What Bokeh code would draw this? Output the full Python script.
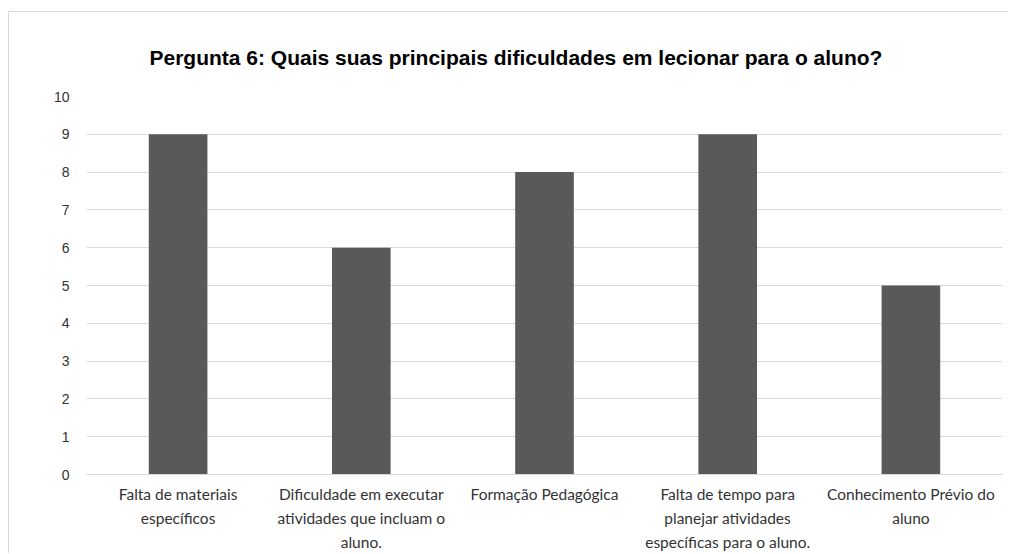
from bokeh.plotting import figure
from bokeh.models import FactorRange, Range1d, ColumnDataSource, CategoricalAxis, InlineStyleSheet
from bokeh.embed import file_html
from bokeh.resources import INLINE

categories = [
    "Falta de materiais específicos",
    "Dificuldade em executar atividades que incluam o aluno.",
    "Formação Pedagógica",
    "Falta de tempo para planejar atividades específicas para o aluno.",
    "Conhecimento Prévio do aluno",
]
label_lines = [
    ["Falta de materiais", "específicos", ""],
    ["Dificuldade em executar", "atividades que incluam o", "aluno."],
    ["Formação Pedagógica", "", ""],
    ["Falta de tempo para", "planejar atividades", "específicas para o aluno."],
    ["Conhecimento Prévio do", "aluno", ""],
]
values = [9, 6, 8, 9, 5]
y_ticks = list(range(0, 11))
title_text = "Pergunta 6: Quais suas principais dificuldades em lecionar para o aluno?"

src = ColumnDataSource(dict(cat=categories, val=values))

p = figure(
    x_range=FactorRange(*categories, range_padding=0),
    y_range=Range1d(0, 10),
    width=1008, height=553,
    output_backend="svg", toolbar_location=None,
    min_border_left=86, min_border_right=6, min_border_top=96, min_border_bottom=79,
    background_fill_color="white", border_fill_color="white",
    title=title_text, x_axis_location=None,
)
p.outline_line_color = None
p.stylesheets = [InlineStyleSheet(css=":host::after { content: ''; position: absolute; left: 8px; top: 11px; right: 0; bottom: 0; border-top: 1px solid #d9d9d9; border-left: 1px solid #d9d9d9; pointer-events: none; }")]

p.title.align = "left"
p.title.offset = 63
p.title.standoff = 56
p.title.text_font = "Liberation Sans"
p.title.text_font_style = "bold"
p.title.text_font_size = "21px"
p.title.text_color = "black"

p.vbar(x="cat", top="val", width=0.32, source=src, color="#595959", line_color=None)

p.xgrid.grid_line_color = None
p.ygrid.grid_line_color = "#d9d9d9"
p.ygrid.grid_line_width = 1
p.yaxis.ticker = y_ticks
p.yaxis.axis_line_color = None
p.yaxis.major_tick_line_color = None
p.yaxis.major_tick_out = 0
p.yaxis.minor_tick_line_color = None
p.yaxis.major_label_text_font = "Liberation Sans"
p.yaxis.major_label_text_font_size = "14px"
p.yaxis.major_label_text_color = "#333333"
p.yaxis.major_label_standoff = 17

for i in range(3):
    factors = []
    for j, lines in enumerate(label_lines):
        t = lines[i]
        factors.append(t if t else " " * (j + 1))
    name = f"line{i}"
    p.extra_x_ranges[name] = FactorRange(*factors, range_padding=0)
    ax = CategoricalAxis(x_range_name=name)
    ax.axis_line_color = "#d9d9d9" if i == 0 else None
    ax.major_tick_line_color = None
    ax.minor_tick_line_color = None
    ax.major_tick_out = 0
    ax.major_tick_in = 0
    ax.major_label_text_font = "Lato"
    ax.major_label_text_font_size = "15.5px"
    ax.major_label_text_color = "#333333"
    ax.major_label_standoff = 10 if i == 0 else 3
    p.add_layout(ax, "below")

open("out.html", "w").write(file_html(p, INLINE))
